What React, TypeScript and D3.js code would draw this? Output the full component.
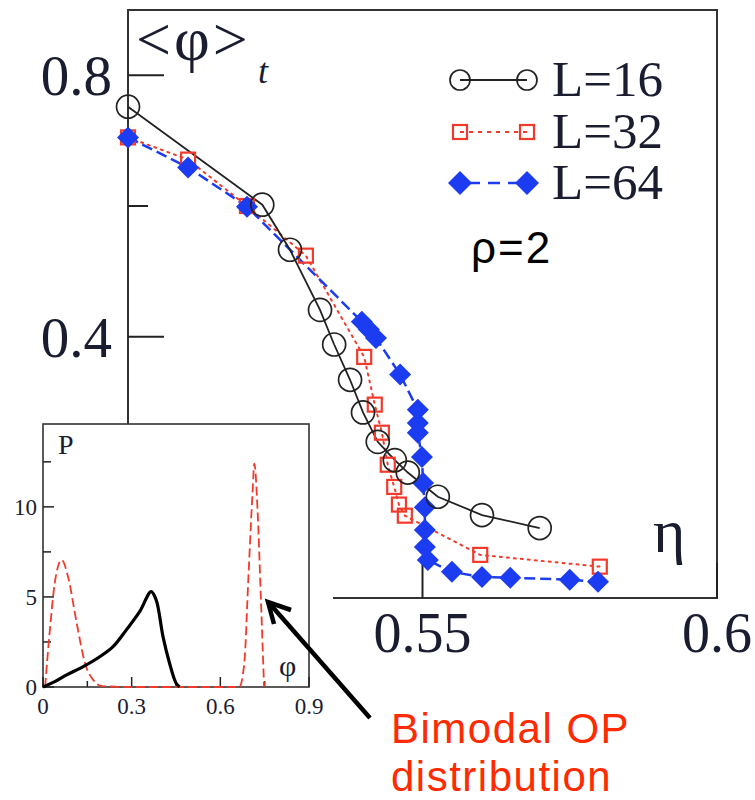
import React from "react";
import * as d3 from "d3";

// Main plot data: eta vs <phi>_t
const eta16 = [0.5, 0.5228, 0.5275, 0.5326, 0.535, 0.5377, 0.5399, 0.5424, 0.5453, 0.5475, 0.5526, 0.5601, 0.5699];
const phi16 = [0.752, 0.602, 0.533, 0.441, 0.388, 0.334, 0.284, 0.239, 0.211, 0.192, 0.155, 0.127, 0.107];

const eta32 = [0.5, 0.5102, 0.5202, 0.5302, 0.5401, 0.5419, 0.5431, 0.5441, 0.5452, 0.546, 0.547, 0.5598, 0.5801];
const phi32 = [0.705, 0.671, 0.6, 0.524, 0.369, 0.296, 0.253, 0.204, 0.17, 0.143, 0.126, 0.066, 0.048];

const eta64 = [0.5, 0.5102, 0.5202, 0.5397, 0.5409, 0.5421, 0.5462, 0.5492, 0.5492, 0.5492, 0.5499, 0.5501, 0.5504, 0.5504, 0.5504, 0.5509, 0.555, 0.5601, 0.5649, 0.575, 0.5798];
const phi64 = [0.705, 0.659, 0.599, 0.423, 0.411, 0.398, 0.342, 0.288, 0.268, 0.253, 0.216, 0.176, 0.139, 0.104, 0.078, 0.058, 0.04, 0.032, 0.031, 0.028, 0.025];

// ticks (the 0 / 0.5 ticks lie under the inset; only visible labels are listed)
const xMajorTicks = [0.5, 0.55, 0.6];
const xLabelTicks = [0.55, 0.6];
const xTickLabels = ["0.55", "0.6"];
const yMajorTicks = [0, 0.4, 0.8];
const yLabelTicks = [0.4, 0.8];
const yTickLabels = ["0.4", "0.8"];
const yMinorTicks = [0.2, 0.6];

const legendLabels = ["L=16", "L=32", "L=64"];

// Inset data: P(phi)
const redPhi = [0.007, 0.024, 0.04, 0.063, 0.085, 0.114, 0.142, 0.17, 0.2, 0.3, 0.5, 0.664, 0.681, 0.695, 0.709, 0.715, 0.726, 0.737, 0.748];
const redP = [0, 3.3, 5.8, 7.05, 6.1, 3.55, 1.33, 0.39, 0.05, 0, 0, 0, 1.3, 6.1, 10.8, 12.4, 9.8, 5.0, 0];

const blackPhi = [0, 0.04, 0.08, 0.136, 0.192, 0.237, 0.282, 0.327, 0.366, 0.383, 0.406, 0.428, 0.45, 0.462];
const blackP = [0, 0.3, 0.67, 1.13, 1.68, 2.24, 3.17, 4.18, 5.3, 4.83, 2.8, 1.33, 0.22, 0];

const insetXTicks = [0, 0.3, 0.6, 0.9];
const insetXLabels = ["0", "0.3", "0.6", "0.9"];
const insetXMinor = [0.15, 0.45, 0.75];
const insetYTicks = [0, 5, 10];
const insetYLabels = ["0", "5", "10"];
const insetYMinor = [2.5, 7.5, 12.5];

const BLACK = "#222";
const RED = "#f23a2a";
const BLUE = "#1c3cf2";
const LABEL = "#1a1d30";
const SERIF = "'Liberation Serif', 'DejaVu Serif', serif";
const SANS = "'Liberation Sans', Arial, sans-serif";

function diamond(cx: number, cy: number, h: number) {
  return `M${cx},${cy - h}L${cx + h},${cy}L${cx},${cy + h}L${cx - h},${cy}Z`;
}

export default function App() {
  const x = d3.scaleLinear().domain([0.5, 0.6]).range([128, 717]);
  const y = d3.scaleLinear().domain([0, 0.9]).range([598, 10]);
  const ix = d3.scaleLinear().domain([0, 0.9]).range([43, 309]);
  const iy = d3.scaleLinear().domain([0, 14.6]).range([687, 424]);

  const line = d3.line<[number, number]>().x((d) => x(d[0])).y((d) => y(d[1]));
  const d16 = line(eta16.map((e, i) => [e, phi16[i]] as [number, number])) || "";
  const d32 = line(eta32.map((e, i) => [e, phi32[i]] as [number, number])) || "";
  const d64 = line(eta64.map((e, i) => [e, phi64[i]] as [number, number])) || "";

  const iline = d3
    .line<[number, number]>()
    .x((d) => ix(d[0]))
    .y((d) => iy(d[1]))
    .curve(d3.curveMonotoneX);
  const dRed = iline(redPhi.map((p, i) => [p, redP[i]] as [number, number])) || "";
  const blackLine = d3
    .line<[number, number]>()
    .x((d) => ix(d[0]))
    .y((d) => iy(d[1]))
    .curve(d3.curveCatmullRom);
  const dBlack = blackLine(blackPhi.map((p, i) => [p, blackP[i]] as [number, number])) || "";

  const legY = [80, 132, 183];
  const legX1 = 460;
  const legX2 = 527;

  return (
    <svg width={755} height={800} style={{ position: "absolute", left: 0, top: 0, background: "#fff" }}>
      {/* main frame */}
      <rect x={x(0.5)} y={y(0.9)} width={x(0.6) - x(0.5)} height={y(0) - y(0.9)} fill="none" stroke="#333" strokeWidth={2} />
      {/* y ticks */}
      {yMajorTicks.map((t) => (
        <line key={"ym" + t} x1={x(0.5)} x2={x(0.5) + 36} y1={y(t)} y2={y(t)} stroke="#222" strokeWidth={2} />
      ))}
      {yMinorTicks.map((t) => (
        <line key={"yn" + t} x1={x(0.5)} x2={x(0.5) + 20} y1={y(t)} y2={y(t)} stroke="#222" strokeWidth={2} />
      ))}
      {yLabelTicks.map((t, i) => (
        <text key={"yl" + t} x={112} y={y(t) + 20} textAnchor="end" fontFamily={SERIF} fontSize={57} fill={LABEL}>
          {yTickLabels[i]}
        </text>
      ))}
      {/* x ticks */}
      {xMajorTicks.map((t) => (
        <line key={"xm" + t} x1={x(t)} x2={x(t)} y1={y(0)} y2={y(0) - 35} stroke="#222" strokeWidth={2} />
      ))}
      {xLabelTicks.map((t, i) => (
        <text key={"xl" + t} x={x(t)} y={652} textAnchor="middle" fontFamily={SERIF} fontSize={56} fill={LABEL}>
          {xTickLabels[i]}
        </text>
      ))}
      {/* axis titles */}
      <text x={136} y={60} fontFamily={SERIF} fontSize={62} letterSpacing={3} fill={LABEL}>
        {"<φ>"}
      </text>
      <text x={258} y={83} fontFamily={SERIF} fontStyle="italic" fontSize={36} fill={LABEL}>
        t
      </text>
      <text x={653} y={552} fontFamily={SERIF} fontSize={62} fill={LABEL}>
        η
      </text>

      {/* series lines */}
      <path d={d32} fill="none" stroke={RED} strokeWidth={2} strokeDasharray="2 5" strokeLinecap="round" />
      <path d={d64} fill="none" stroke={BLUE} strokeWidth={2.5} strokeDasharray="11 5" />
      <path d={d16} fill="none" stroke={BLACK} strokeWidth={1.8} />

      {/* markers */}
      {eta32.map((e, i) => (
        <rect key={"s" + i} x={x(e) - 7} y={y(phi32[i]) - 7} width={14} height={14} fill="none" stroke={RED} strokeWidth={2.2} />
      ))}
      {eta64.map((e, i) => (
        <path key={"d" + i} d={diamond(x(e), y(phi64[i]), 11)} fill={BLUE} />
      ))}
      {eta16.map((e, i) => (
        <circle key={"c" + i} cx={x(e)} cy={y(phi16[i])} r={11.5} fill="none" stroke={BLACK} strokeWidth={1.7} />
      ))}

      {/* legend */}
      <line x1={legX1} x2={legX2} y1={legY[0]} y2={legY[0]} stroke={BLACK} strokeWidth={1.8} />
      <circle cx={legX1} cy={legY[0]} r={10} fill="none" stroke={BLACK} strokeWidth={1.7} />
      <circle cx={legX2} cy={legY[0]} r={10} fill="none" stroke={BLACK} strokeWidth={1.7} />
      <line x1={legX1} x2={legX2} y1={legY[1]} y2={legY[1]} stroke={RED} strokeWidth={2} strokeDasharray="4 5" />
      <rect x={legX1 - 7} y={legY[1] - 7} width={14} height={14} fill="none" stroke={RED} strokeWidth={2.2} />
      <rect x={legX2 - 7} y={legY[1] - 7} width={14} height={14} fill="none" stroke={RED} strokeWidth={2.2} />
      <line x1={legX1} x2={legX2} y1={legY[2]} y2={legY[2]} stroke={BLUE} strokeWidth={2.5} strokeDasharray="12 8" strokeDashoffset={-8} />
      <path d={diamond(legX1, legY[2], 12)} fill={BLUE} />
      <path d={diamond(legX2, legY[2], 12)} fill={BLUE} />
      {legendLabels.map((l, i) => (
        <text key={l} x={552} y={legY[i] + 16} fontFamily={SERIF} fontSize={51} fill={LABEL}>
          {l}
        </text>
      ))}
      <text x={471} y={263} fontFamily={SANS} fontSize={44} letterSpacing={2} fill="#000">
        ρ=2
      </text>

      {/* inset */}
      <rect x={0} y={424} width={333} height={306} fill="#fff" />
      <rect x={ix(0)} y={iy(14.6)} width={ix(0.9) - ix(0)} height={iy(0) - iy(14.6)} fill="#fff" stroke="#333" strokeWidth={1.6} />
      {insetXTicks.map((t) => (
        <line key={"ixt" + t} x1={ix(t)} x2={ix(t)} y1={iy(0)} y2={iy(0) - 10} stroke="#222" strokeWidth={1.5} />
      ))}
      {insetXMinor.map((t) => (
        <line key={"ixn" + t} x1={ix(t)} x2={ix(t)} y1={iy(0)} y2={iy(0) - 6} stroke="#222" strokeWidth={1.5} />
      ))}
      {insetYTicks.map((t) => (
        <line key={"iyt" + t} x1={ix(0)} x2={ix(0) + 11} y1={iy(t)} y2={iy(t)} stroke="#222" strokeWidth={1.5} />
      ))}
      {insetYMinor.map((t) => (
        <line key={"iyn" + t} x1={ix(0)} x2={ix(0) + 8} y1={iy(t)} y2={iy(t)} stroke="#222" strokeWidth={1.5} />
      ))}
      {insetXTicks.map((t, i) => (
        <text key={"ixl" + t} x={ix(t)} y={714} textAnchor="middle" fontFamily={SERIF} fontSize={23} fill={LABEL}>
          {insetXLabels[i]}
        </text>
      ))}
      {insetYTicks.map((t, i) => (
        <text key={"iyl" + t} x={37} y={iy(t) + 8} textAnchor="end" fontFamily={SERIF} fontSize={23} fill={LABEL}>
          {insetYLabels[i]}
        </text>
      ))}
      <text x={58} y={454} fontFamily={SERIF} fontSize={28} fill={LABEL}>
        P
      </text>
      <text x={279} y={676} fontFamily={SERIF} fontSize={30} fill={LABEL}>
        φ
      </text>
      <path d={dRed} fill="none" stroke={RED} strokeWidth={1.8} strokeDasharray="9 4" />
      <path d={dBlack} fill="none" stroke="#000" strokeWidth={3.2} />

      {/* arrow */}
      <line x1={370} y1={718} x2={270} y2={604} stroke="#000" strokeWidth={4.5} />
      <polyline points="274,624 268,602 291,610" fill="none" stroke="#000" strokeWidth={4.5} strokeLinejoin="miter" />

      {/* annotation */}
      <text fontFamily={SANS} fontSize={42} letterSpacing={1.5} fill="#ff2a00">
        <tspan x={391} y={743}>Bimodal OP</tspan>
        <tspan x={391} y={791}>distribution</tspan>
      </text>
    </svg>
  );
}
